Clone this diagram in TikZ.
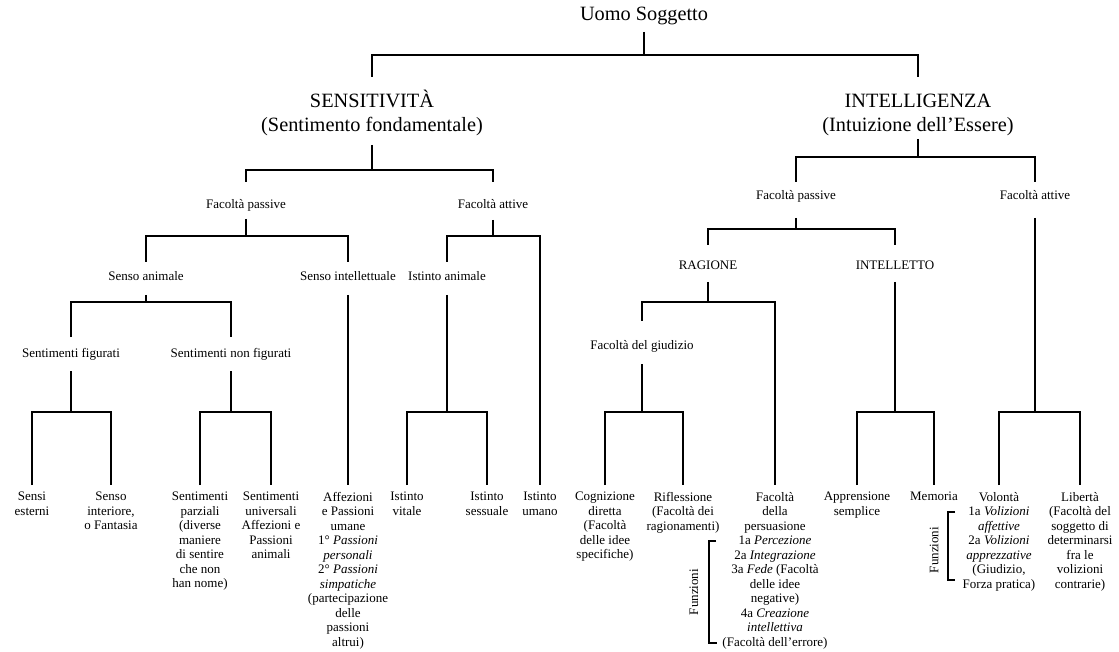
\documentclass[tikz,border=0pt]{standalone}
\usepackage{fontspec}
\setmainfont{Liberation Serif}
\begin{document}
\begin{tikzpicture}[x=1pt, y=-1pt,
  lbl/.style={inner sep=0pt, font=\fontsize{13}{14.5}\selectfont},
  mid/.style={lbl, anchor=base},
  leaf/.style={lbl, anchor=north, align=center},
  big/.style={inner sep=0pt, anchor=north, align=center, font=\fontsize{20.3}{24}\selectfont},
  edge/.style={line width=1.4pt}]
\useasboundingbox (0,0) rectangle (1119,652);

% upper levels
\node[big, anchor=base] (root) at (644,21) {Uomo Soggetto};
\node[big] (sens) at (372,88) {\rule{0pt}{19pt}SENSITIVITÀ\\(Sentimento fondamentale)};
\node[big] (intel) at (918,88) {\rule{0pt}{19pt}INTELLIGENZA\\(Intuizione dell’Essere)};

\node[mid] (fpl) at (246,208.5) {Facoltà passive};
\node[mid] (fal) at (493,208.5) {Facoltà attive};
\node[mid] (sa) at (146,280.5) {Senso animale};
\node[mid] (si) at (348,280.5) {Senso intellettuale};
\node[mid] (ia) at (447,280.5) {Istinto animale};
\node[mid] (sf) at (71,357.5) {Sentimenti figurati};
\node[mid] (snf) at (231,357.5) {Sentimenti non figurati};

\node[mid] (fpr) at (796,199.5) {Facoltà passive};
\node[mid] (far) at (1035,199.5) {Facoltà attive};
\node[mid] (rag) at (708,270) {RAGIONE};
\node[mid] (intl) at (895,270) {INTELLETTO};
\node[mid] (fg) at (642,349.5) {Facoltà del giudizio};

% leaves
\node[leaf] (se) at (32,492) {Sensi\\esterni};
\node[leaf] (sint) at (111,492) {Senso\\interiore,\\o Fantasia};
\node[leaf] (sp) at (200,492) {Sentimenti\\parziali\\(diverse\\maniere\\di sentire\\che non\\han nome)};
\node[leaf] (su) at (271,492) {Sentimenti\\universali\\Affezioni e\\Passioni\\animali};
\node[leaf] (aff) at (348,492) {Affezioni\\e Passioni\\umane\\1° \textit{Passioni}\\\textit{personali}\\2° \textit{Passioni}\\\textit{simpatiche}\\(partecipazione\\delle\\passioni\\altrui)};
\node[leaf] (iv) at (407,492) {Istinto\\vitale};
\node[leaf] (is) at (487,492) {Istinto\\sessuale};
\node[leaf] (iu) at (540,492) {Istinto\\umano};
\node[leaf] (cd) at (605,492) {Cognizione\\diretta\\(Facoltà\\delle idee\\specifiche)};
\node[leaf] (rif) at (683,492) {Riflessione\\(Facoltà dei\\ragionamenti)};
\node[leaf] (fp) at (775,492) {Facoltà\\della\\persuasione\\1a \textit{Percezione}\\2a \textit{Integrazione}\\3a \textit{Fede} (Facoltà\\delle idee\\negative)\\4a \textit{Creazione}\\\textit{intellettiva}\\(Facoltà dell’errore)};
\node[leaf] (app) at (857,492) {Apprensione\\semplice};
\node[leaf] (mem) at (934,492) {Memoria};
\node[leaf] (vol) at (999,492) {Volontà\\1a \textit{Volizioni}\\\textit{affettive}\\2a \textit{Volizioni}\\\textit{apprezzative}\\(Giudizio,\\Forza pratica)};
\node[leaf] (lib) at (1080,492) {Libertà\\(Facoltà del\\soggetto di\\determinarsi\\fra le\\volizioni\\contrarie)};

% branches
\draw[edge] (root |- 0,32) -- (root |- 0,55);
\draw[edge] (sens |- 0,77) |- (intel |- 0,55) -- (intel |- 0,77);

\draw[edge] (sens |- 0,145) -- (sens |- 0,170);
\draw[edge] (fpl |- 0,182) |- (fal |- 0,170) -- (fal |- 0,182);
\draw[edge] (fpl |- 0,219) -- (fpl |- 0,236);
\draw[edge] (sa |- 0,262) |- (si |- 0,236) -- (si |- 0,262);
\draw[edge] (fal |- 0,220) -- (fal |- 0,236);
\draw[edge] (ia |- 0,262) |- (iu |- 0,236) -- (iu |- 0,485);
\draw[edge] (sa |- 0,295) -- (sa |- 0,302);
\draw[edge] (sf |- 0,337) |- (snf |- 0,302) -- (snf |- 0,337);
\draw[edge] (si |- 0,295) -- (aff |- 0,485);
\draw[edge] (ia |- 0,295) -- (ia |- 0,412);
\draw[edge] (iv |- 0,485) |- (is |- 0,412) -- (is |- 0,485);
\draw[edge] (sf |- 0,371) -- (sf |- 0,412);
\draw[edge] (se |- 0,485) |- (sint |- 0,412) -- (sint |- 0,485);
\draw[edge] (snf |- 0,371) -- (snf |- 0,412);
\draw[edge] (sp |- 0,485) |- (su |- 0,412) -- (su |- 0,485);

\draw[edge] (intel |- 0,139) -- (intel |- 0,157);
\draw[edge] (fpr |- 0,182) |- (far |- 0,157) -- (far |- 0,182);
\draw[edge] (fpr |- 0,218) -- (fpr |- 0,229);
\draw[edge] (rag |- 0,245) |- (intl |- 0,229) -- (intl |- 0,245);
\draw[edge] (rag |- 0,282) -- (rag |- 0,302);
\draw[edge] (fg |- 0,321) |- (fp |- 0,302) -- (fp |- 0,485);
\draw[edge] (fg |- 0,364) -- (fg |- 0,412);
\draw[edge] (cd |- 0,485) |- (rif |- 0,412) -- (rif |- 0,485);
\draw[edge] (intl |- 0,282) -- (intl |- 0,412);
\draw[edge] (app |- 0,485) |- (mem |- 0,412) -- (mem |- 0,485);
\draw[edge] (far |- 0,218) -- (far |- 0,412);
\draw[edge] (vol |- 0,485) |- (lib |- 0,412) -- (lib |- 0,485);

% Funzioni brackets
\draw[edge] (716,541) -- (709,541) -- (709,643) -- (717,643);
\node[lbl, rotate=90] (fun1) at (694,592) {Funzioni};
\draw[edge] (955,512) -- (948,512) -- (948,580) -- (955,580);
\node[lbl, rotate=90] (fun2) at (934,550) {Funzioni};
\end{tikzpicture}
\end{document}
